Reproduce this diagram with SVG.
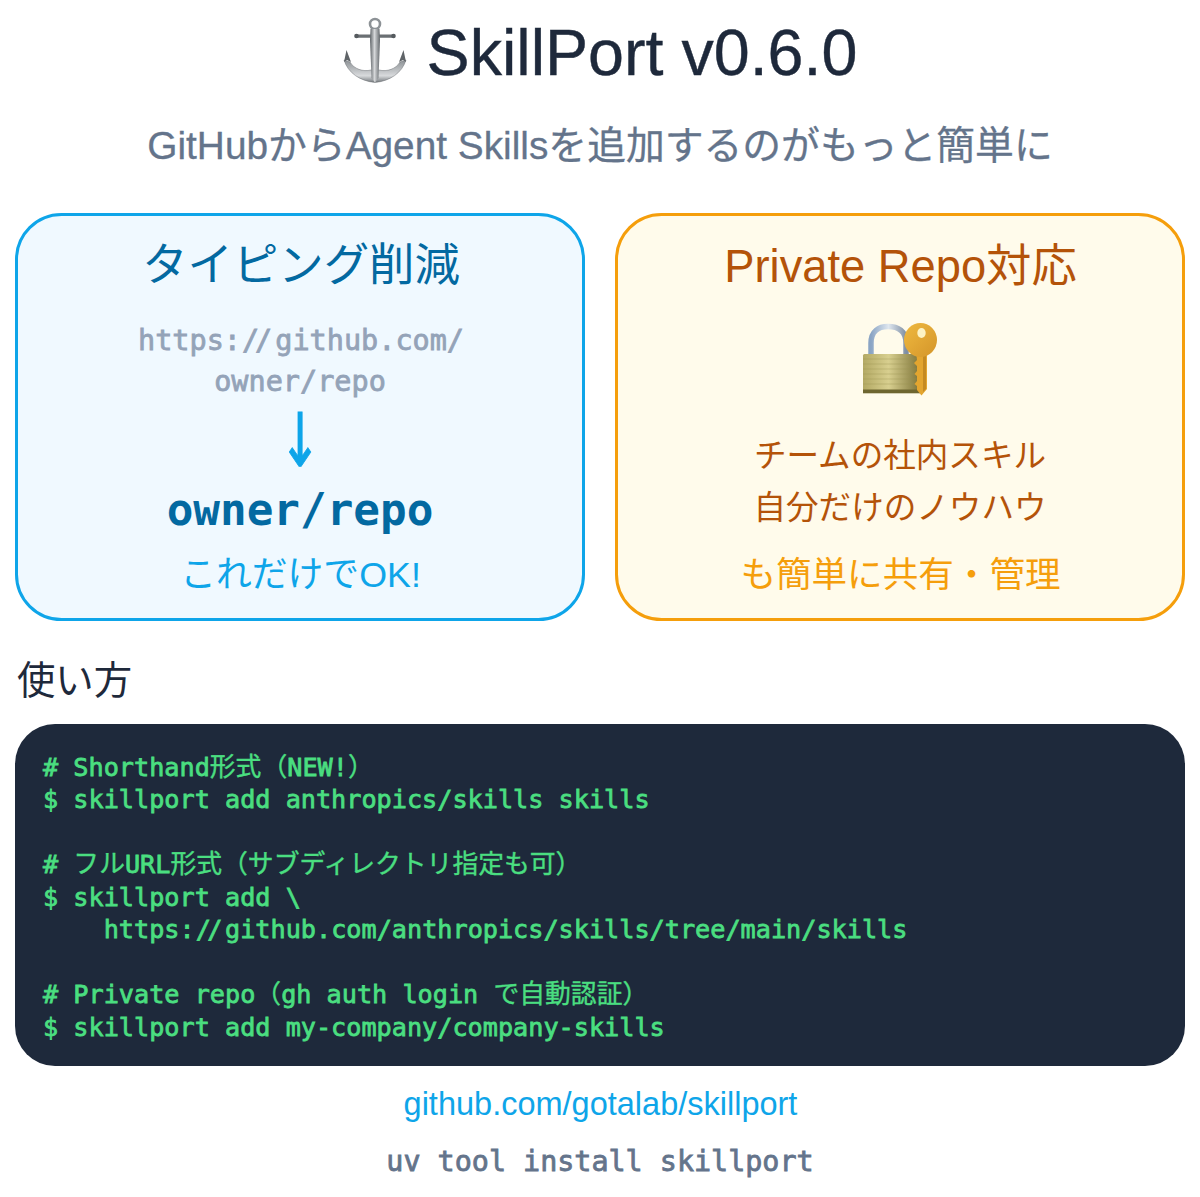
<svg xmlns="http://www.w3.org/2000/svg" width="1200" height="1197" viewBox="0 0 1200 1197">
<style>
text{font-family:"Liberation Sans","Noto Sans CJK JP",sans-serif;text-anchor:middle}
.m{font-family:"DejaVu Sans Mono","Noto Sans CJK JP",monospace;font-weight:400;stroke-width:.8px}
.b{font-weight:700;stroke-width:0}
.c{font-size:25.2px;fill:#4ade80;stroke:#4ade80;text-anchor:start}
.j{font-size:25.8px;stroke-width:.4px}
.s{font-size:28.500px;fill:#94a3b8;stroke:#94a3b8}
</style>
<defs>
<linearGradient id="steel" x1="0" x2="1" y1="0" y2="0"><stop offset="0" stop-color="#5f6468"/><stop offset=".45" stop-color="#d5d7d9"/><stop offset="1" stop-color="#63686c"/></linearGradient>
<linearGradient id="arc" x1="0" x2="0" y1="0" y2="1"><stop offset="0" stop-color="#8b9094"/><stop offset=".7" stop-color="#d8dadc"/><stop offset="1" stop-color="#73787c"/></linearGradient>
<linearGradient id="brass" x1="0" x2="1" y1="0" y2="0"><stop offset="0" stop-color="#b3a964"/><stop offset=".45" stop-color="#d8cf8f"/><stop offset="1" stop-color="#7d7338"/></linearGradient>
<linearGradient id="shackle" x1="0" x2="1" y1="0" y2="0"><stop offset="0" stop-color="#8aa4c4"/><stop offset=".5" stop-color="#dfe7ef"/><stop offset="1" stop-color="#7f8fa3"/></linearGradient>
<linearGradient id="gold" x1="0" x2="1" y1="0" y2="1"><stop offset="0" stop-color="#efb93f"/><stop offset="1" stop-color="#d4952a"/></linearGradient>
</defs>
<rect width="1200" height="1197" fill="#fff"/>
<g id="header">
<g id="anchor-icon">
<circle cx="375" cy="24" r="5" fill="none" stroke="#8d9296" stroke-width="2.600"/>
<path d="M344 60C348 73 360 81 375 82.500C390 81 402 73 406 60L400 62C396 69 387 72 379 70L371 70C363 72 354 69 350 62Z" fill="url(#arc)" stroke="#6a6f73" stroke-width=".5"/>
<path d="M344 62L346.500 50L351 62L347 60Z M406 62L403.500 50L399 62L403 60Z" fill="#5f6468"/>
<rect x="356" y="34.400" width="38" height="3.400" rx="1.700" fill="#6a6f73"/>
<circle cx="356.500" cy="36" r="2.300" fill="#555a5e"/><circle cx="393.500" cy="36" r="2.300" fill="#555a5e"/>
<path d="M370.500 29H379.500L380 40L378.500 78L375 82.500L371.500 78L370 40Z" fill="url(#steel)"/>
</g>
<text x="642" y="75" font-size="64.600" fill="#1e293b" stroke="#1e293b" stroke-width=".4">SkillPort v0.6.0</text>
<text x="600" y="159" font-size="38.800" fill="#64748b" stroke="#64748b" stroke-width=".3">GitHubからAgent Skillsを追加するのがもっと簡単に</text>
</g>
<g id="card-typing">
<rect x="16.500" y="214.500" width="567" height="405" rx="45" fill="#f0f9ff" stroke="#0ea5e9" stroke-width="3"/>
<text x="301" y="281" font-size="45.400" fill="#0369a1">タイピング削減</text>
<text class="m s" x="138" y="350" style="text-anchor:start">https:<tspan dx="1" letter-spacing="-4">//</tspan><tspan dx="7">github.com/</tspan></text>
<text class="m s" x="300" y="391">owner/repo</text>
<text transform="translate(300 0) scale(.68 1)" x="0" y="466" font-size="74" fill="#0ea5e9" stroke="#0ea5e9" stroke-width="1" style="font-family:'DejaVu Sans',sans-serif">↓</text>
<text class="m b" x="300" y="525" font-size="44.300" fill="#0369a1">owner/repo</text>
<text x="300.500" y="587" font-size="35.800" fill="#0ea5e9">これだけでOK!</text>
</g>
<g id="card-private">
<rect x="616.500" y="214.500" width="567" height="405" rx="45" fill="#fffbeb" stroke="#f59e0b" stroke-width="3"/>
<text x="900.500" y="282" font-size="45.300" fill="#b45309">Private Repo対応</text>
<g id="lock-icon">
<path d="M871 356V343C871 331 879 326.500 888 326.500C898 326.500 906 331 906 343V356" fill="none" stroke="url(#shackle)" stroke-width="5.500"/>
<rect x="863" y="354" width="57" height="39" rx="1.500" fill="url(#brass)"/>
<rect x="863" y="389.500" width="57" height="3.800" fill="#6e6630"/>
<path d="M863 359H920M863 364H920M863 369H920M863 374H920M863 379H920M863 384H920" stroke="#9c9350" stroke-width=".6" opacity=".6"/>
<path d="M916 352H927V389L921.500 395.500L917 390V386L914.500 384L917 381V376L914.500 374L917 371V366L914 363L917 360Z" fill="#e3a52f"/>
<path d="M923 354H926V389L923 392Z" fill="#c58a22"/>
<ellipse cx="920.500" cy="340" rx="16.500" ry="17" fill="url(#gold)"/>
<ellipse cx="921.500" cy="333" rx="4.200" ry="5" fill="#fdf3c4"/>
</g>
<text x="900" y="467" font-size="32.600" fill="#b45309">チームの社内スキル</text>
<text x="900" y="519" font-size="32.600" fill="#b45309">自分だけのノウハウ</text>
<text x="900.500" y="587" font-size="35.600" fill="#f59e0b">も簡単に共有・管理</text>
</g>
<g id="usage">
<text x="74.500" y="694" font-size="38.400" fill="#1e293b">使い方</text>
</g>
<g id="code-block">
<rect x="15" y="724" width="1170" height="342" rx="40" fill="#1e293b"/>
<text class="m c" x="43" y="776"># Shorthand<tspan class="j">形式（</tspan>NEW!<tspan class="j">）</tspan></text>
<text class="m c" x="43" y="808">$ skillport add anthropics/skills skills</text>
<text class="m c" x="43" y="873"># <tspan class="j">フル</tspan>URL<tspan class="j">形式（サブディレクトリ指定も可）</tspan></text>
<text class="m c" x="43" y="906">$ skillport add \</text>
<text class="m c" x="43" y="938" xml:space="preserve">    https:<tspan dx="1" letter-spacing="-3.500">//</tspan><tspan dx="6">github.com/anthropics/skills/tree/main/skills</tspan></text>
<text class="m c" x="43" y="1003"># Private repo<tspan class="j">（</tspan>gh auth login <tspan class="j">で自動認証）</tspan></text>
<text class="m c" x="43" y="1036">$ skillport add my-company/company-skills</text>
</g>
<g id="footer">
<text x="600.500" y="1115" font-size="32.500" fill="#0ea5e9">github.com/gotalab/skillport</text>
<text class="m" x="600" y="1171" font-size="28.400" fill="#64748b" stroke="#64748b">uv tool install skillport</text>
</g>
<g id="connectors"></g>
</svg>
